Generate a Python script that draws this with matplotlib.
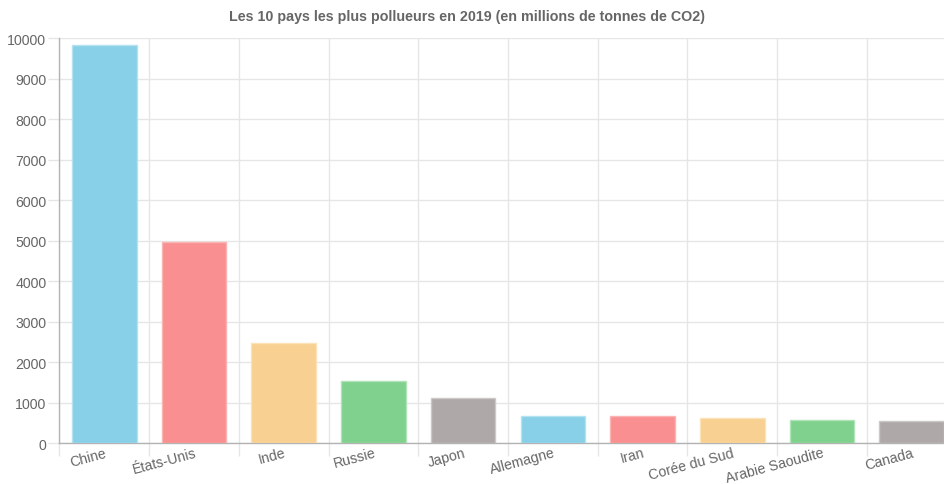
import numpy as np
import matplotlib.pyplot as plt

# données (millions de tonnes de CO2, 2019)
pays = ['Chine', 'États-Unis', 'Inde', 'Russie', 'Japon',
        'Allemagne', 'Iran', 'Corée du Sud', 'Arabie Saoudite', 'Canada']
emissions = [9826, 4965, 2480, 1532, 1111, 681, 667, 633, 576, 545]
couleurs = ['#87d0e7', '#f98f90', '#f8d091', '#7fd18d', '#aea8a8',
            '#87d0e7', '#f98f90', '#f8d091', '#7fd18d', '#aea8a8']
bordures = ['#b4e2f0', '#fbb4b4', '#fbe2b8', '#b0e4b8', '#cdc8c8',
            '#b4e2f0', '#fbb4b4', '#fbe2b8', '#b0e4b8', '#cdc8c8']
titre = 'Les 10 pays les plus pollueurs en 2019 (en millions de tonnes de CO2)'

plt.rcParams['font.family'] = ['Liberation Sans', 'DejaVu Sans']

fig = plt.figure(figsize=(9.45, 4.85), dpi=100)
# la zone de tracé déborde à droite comme sur l'original
ax = fig.add_axes([59.5 / 945, 40.7 / 485, 897 / 945, 405 / 485])

x = np.arange(len(pays))
ax.bar(x, emissions, width=0.72, color=couleurs, edgecolor=bordures,
       linewidth=1, zorder=3)

ax.set_xlim(-0.5, len(pays) - 0.5)
ax.set_ylim(0, 10000)
ax.set_yticks(np.arange(0, 10001, 1000))

grille = '#e6e6e6'
ax.set_xticks(x)
ax.set_xticklabels(pays, rotation=15, ha='right', rotation_mode='anchor',
                   fontsize=10.2, color='#666666')
ax.set_xticks(np.arange(-0.5, len(pays), 1), minor=True)
ax.tick_params(axis='x', which='major', length=0, pad=1.5)
ax.tick_params(axis='x', which='minor', length=9, color=grille, width=1)
ax.tick_params(axis='y', length=8, color=grille, width=1, pad=1.5,
               labelsize=10.2, labelcolor='#666666')

ax.grid(axis='y', color=grille, linewidth=1, zorder=0)
ax.grid(axis='x', which='minor', color=grille, linewidth=1, zorder=0)

for s in ['top', 'right']:
    ax.spines[s].set_visible(False)
for s in ['left', 'bottom']:
    ax.spines[s].set_color('#b3b3b3')
    ax.spines[s].set_linewidth(1)

fig.text(467 / 945, 1 - 17 / 485, titre, ha='center', va='center',
         fontsize=10.3, fontweight='bold', color='#666666')

fig.savefig('out.png', dpi=100)
